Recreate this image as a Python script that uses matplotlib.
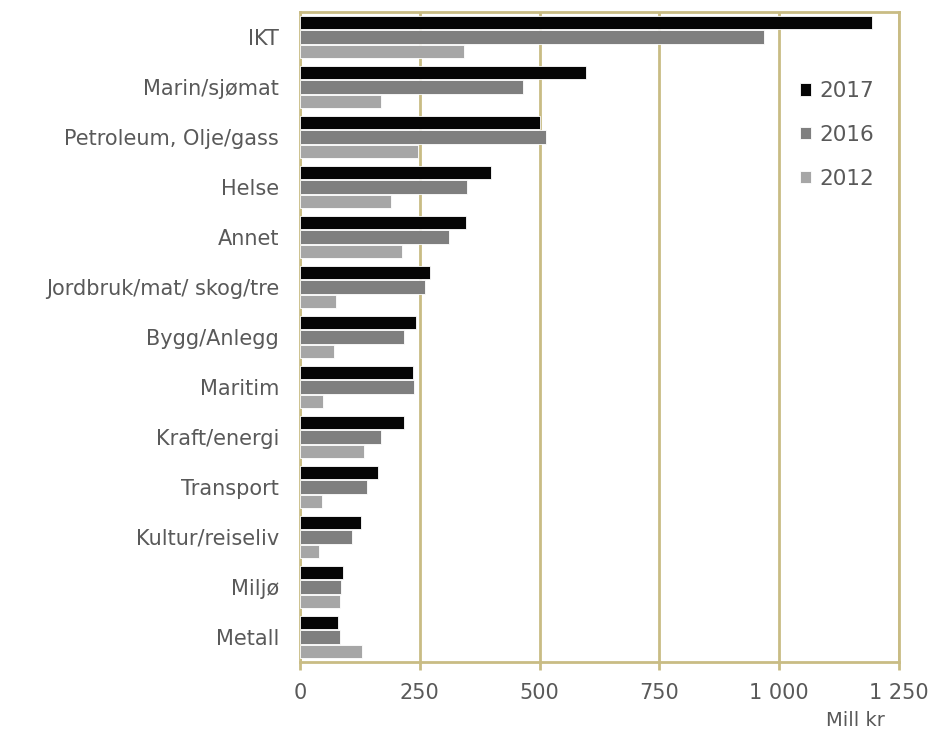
import numpy as np
import matplotlib
matplotlib.use("Agg")
import matplotlib.pyplot as plt

categories = ["IKT", "Marin/sjømat", "Petroleum, Olje/gass", "Helse", "Annet",
              "Jordbruk/mat/ skog/tre", "Bygg/Anlegg", "Maritim", "Kraft/energi",
              "Transport", "Kultur/reiseliv", "Miljø", "Metall"]
v2017 = [1194, 596, 501, 399, 346, 272, 242, 236, 216, 163, 127, 90, 80]
v2016 = [969, 466, 513, 348, 310, 260, 216, 238, 168, 140, 109, 85, 84]
v2012 = [343, 168, 246, 189, 213, 75, 71, 49, 133, 45, 40, 84, 130]
series = [("2017", v2017, "#050505"), ("2016", v2016, "#7f7f7f"), ("2012", v2012, "#a6a6a6")]
xticks = [0, 250, 500, 750, 1000, 1250]
xticklabels = ["0", "250", "500", "750", "1 000", "1 250"]

gold = "#c9bc84"
txt = "#595959"

fig = plt.figure(figsize=(9.34, 7.31), dpi=100)
ax = fig.add_axes([300/934, 1 - 662/731, 599/934, 650/731])

y = np.arange(len(categories))
h = 0.27
for i, (lab, vals, col) in enumerate(series):
    ax.barh(y + (i - 1) * (h + 0.02), vals, height=h, color=col,
            edgecolor="white", linewidth=0.6, label=lab, zorder=3)

ax.set_ylim(len(categories) - 0.5, -0.5)
ax.set_xlim(0, 1250)
ax.set_yticks(y)
ax.set_yticklabels(categories, fontsize=15, color=txt)
ax.set_xticks(xticks)
ax.set_xticklabels(xticklabels, fontsize=15, color=txt)
ax.tick_params(axis="y", length=0, pad=15)
ax.tick_params(axis="x", length=6, width=2, color=gold, pad=9)
ax.grid(axis="x", color=gold, linewidth=2, zorder=0)
for s in ax.spines.values():
    s.set_color(gold)
    s.set_linewidth(2)

ax.set_xlabel("Mill kr", fontsize=14, color=txt)
ax.xaxis.set_label_coords(0.927, -0.075)

leg = ax.legend(loc="upper right", bbox_to_anchor=(0.988, 0.92), frameon=True,
                fontsize=15.5, handlelength=0.5, handleheight=0.5, labelspacing=1.1,
                handletextpad=0.4, borderpad=0.3)
leg.get_frame().set_facecolor("white")
leg.get_frame().set_edgecolor("white")
for t in leg.get_texts():
    t.set_color(txt)

fig.savefig("out.png", dpi=100)
